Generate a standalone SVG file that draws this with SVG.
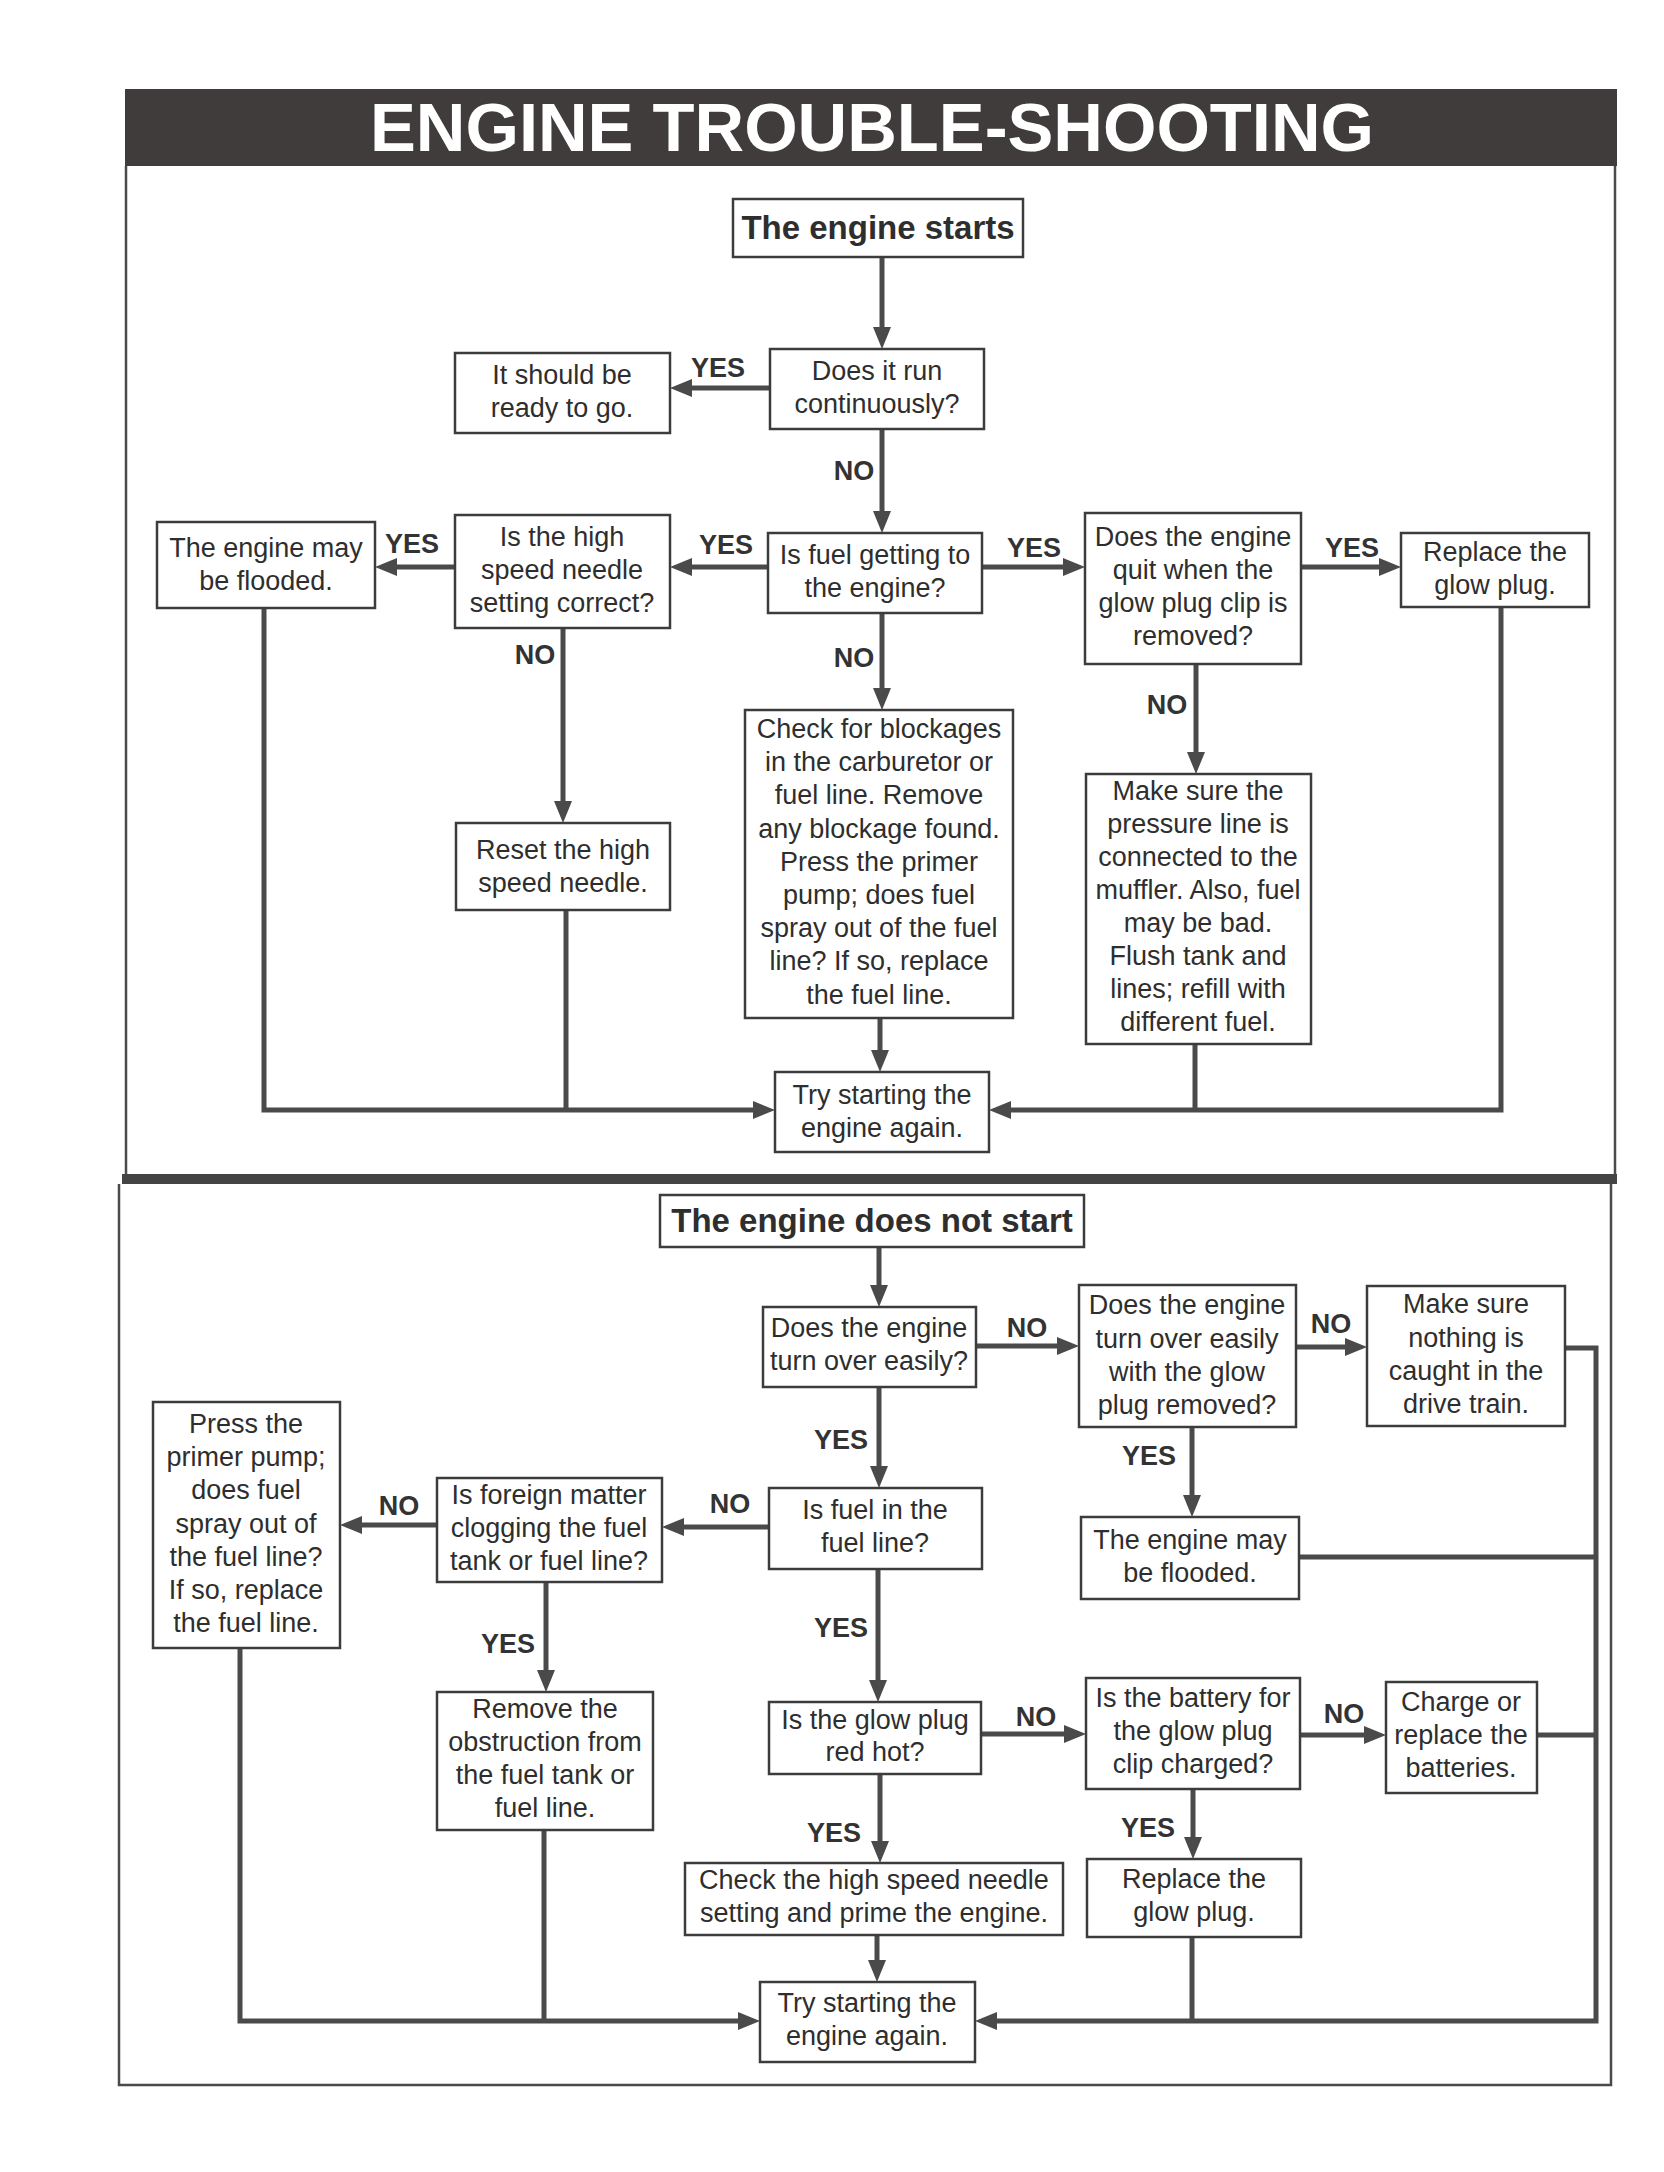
<svg xmlns="http://www.w3.org/2000/svg" width="1664" height="2172" viewBox="0 0 1664 2172">
<defs>
<style>
.bx{fill:#fff;stroke:#3c3c3c;stroke-width:2.5}
.t{font-family:"Liberation Sans",Arial,sans-serif;font-size:27px;fill:#2e2e2e;text-anchor:middle}
.hb{font-family:"Liberation Sans",Arial,sans-serif;font-size:33px;font-weight:bold;fill:#2e2e2e;text-anchor:middle}
.lb{font-family:"Liberation Sans",Arial,sans-serif;font-size:27px;font-weight:bold;fill:#333;text-anchor:middle}
.c{fill:none;stroke:#4a4a4a;stroke-width:5}
.a{marker-end:url(#ah)}
.fr{fill:none;stroke:#4a4a4a;stroke-width:2.5}
</style>
<marker id="ah" markerUnits="userSpaceOnUse" markerWidth="24" markerHeight="20" refX="1" refY="9" orient="auto">
<path d="M0,0 L22,9 L0,18 Z" fill="#4a4a4a"/>
</marker>
</defs>
<rect width="1664" height="2172" fill="#fff"/>

<g id="frame">
<rect x="125" y="89" width="1492" height="77" fill="#403c3b"/>
<text x="872" y="151" font-family="Liberation Sans,Arial,sans-serif" font-size="69" font-weight="bold" fill="#fff" text-anchor="middle" textLength="1004" lengthAdjust="spacingAndGlyphs">ENGINE TROUBLE-SHOOTING</text>
<path class="fr" d="M126,166 V1174 M1615,166 V1174"/>
<path d="M122,1179 H1617" stroke="#444" stroke-width="10"/>
<path class="fr" d="M119,1184 V2085 H1611 V1184"/>
</g>

<g id="connectors">
<path class="c a" d="M882,257 V328"/>
<path class="c a" d="M770,388 H691"/>
<path class="c a" d="M882,429 V512"/>
<path class="c a" d="M768,567 H691"/>
<path class="c a" d="M455,567 H396"/>
<path class="c a" d="M982,567 H1064"/>
<path class="c a" d="M1301,567 H1380"/>
<path class="c a" d="M882,613 V689"/>
<path class="c a" d="M1196,664 V753"/>
<path class="c a" d="M563,628 V802"/>
<path class="c a" d="M880,1018 V1051"/>
<path class="c a" d="M264,608 V1110 H754"/>
<path class="c" d="M566,910 V1110"/>
<path class="c a" d="M1501,607 V1110 H1010"/>
<path class="c" d="M1195,1044 V1110"/>

<path class="c a" d="M879,1247 V1286"/>
<path class="c a" d="M976,1346 H1058"/>
<path class="c a" d="M1296,1347 H1346"/>
<path class="c a" d="M1192,1427 V1496"/>
<path class="c a" d="M879,1387 V1467"/>
<path class="c a" d="M769,1527 H683"/>
<path class="c a" d="M437,1525 H361"/>
<path class="c a" d="M546,1582 V1671"/>
<path class="c a" d="M878,1569 V1681"/>
<path class="c a" d="M981,1734 H1065"/>
<path class="c a" d="M1300,1735 H1365"/>
<path class="c a" d="M880,1774 V1842"/>
<path class="c a" d="M1193,1789 V1838"/>
<path class="c a" d="M877,1935 V1961"/>
<path class="c a" d="M240,1648 V2021 H739"/>
<path class="c" d="M544,1830 V2021"/>
<path class="c a" d="M1565,1348 H1596 V2021 H996"/>
<path class="c" d="M1299,1557 H1596"/>
<path class="c" d="M1537,1735 H1596"/>
<path class="c" d="M1192,1937 V2021"/>
</g>

<g id="labels">
<text class="lb" x="718" y="377">YES</text>
<text class="lb" x="854" y="480">NO</text>
<text class="lb" x="726" y="554">YES</text>
<text class="lb" x="412" y="553">YES</text>
<text class="lb" x="1034" y="557">YES</text>
<text class="lb" x="1352" y="557">YES</text>
<text class="lb" x="854" y="667">NO</text>
<text class="lb" x="1167" y="714">NO</text>
<text class="lb" x="535" y="664">NO</text>

<text class="lb" x="1027" y="1337">NO</text>
<text class="lb" x="1331" y="1333">NO</text>
<text class="lb" x="1149" y="1465">YES</text>
<text class="lb" x="841" y="1449">YES</text>
<text class="lb" x="730" y="1513">NO</text>
<text class="lb" x="399" y="1515">NO</text>
<text class="lb" x="508" y="1653">YES</text>
<text class="lb" x="841" y="1637">YES</text>
<text class="lb" x="1036" y="1726">NO</text>
<text class="lb" x="1344" y="1723">NO</text>
<text class="lb" x="834" y="1842">YES</text>
<text class="lb" x="1148" y="1837">YES</text>
</g>

<g id="n-starts"><rect class="bx" x="733" y="199" width="290" height="58"/><text class="hb" x="878" y="239">The engine starts</text></g>
<g id="n-run"><rect class="bx" x="770" y="349" width="214" height="80"/><text class="t" x="877" y="380">Does it run</text><text class="t" x="877" y="413">continuously?</text></g>
<g id="n-ready"><rect class="bx" x="455" y="353" width="215" height="80"/><text class="t" x="562" y="384">It should be</text><text class="t" x="562" y="417">ready to go.</text></g>
<g id="n-fuel"><rect class="bx" x="768" y="533" width="214" height="80"/><text class="t" x="875" y="564">Is fuel getting to</text><text class="t" x="875" y="597">the engine?</text></g>
<g id="n-high"><rect class="bx" x="455" y="515" width="215" height="113"/><text class="t" x="562" y="546">Is the high</text><text class="t" x="562" y="579">speed needle</text><text class="t" x="562" y="612">setting correct?</text></g>
<g id="n-flooded1"><rect class="bx" x="157" y="522" width="218" height="86"/><text class="t" x="266" y="557">The engine may</text><text class="t" x="266" y="590">be flooded.</text></g>
<g id="n-quit"><rect class="bx" x="1085" y="513" width="216" height="151"/><text class="t" x="1193" y="546">Does the engine</text><text class="t" x="1193" y="579">quit when the</text><text class="t" x="1193" y="612">glow plug clip is</text><text class="t" x="1193" y="645">removed?</text></g>
<g id="n-replace1"><rect class="bx" x="1401" y="533" width="188" height="74"/><text class="t" x="1495" y="561">Replace the</text><text class="t" x="1495" y="594">glow plug.</text></g>
<g id="n-check"><rect class="bx" x="745" y="710" width="268" height="308"/>
<text class="t" x="879" y="738">Check for blockages</text>
<text class="t" x="879" y="771">in the carburetor or</text>
<text class="t" x="879" y="804">fuel line. Remove</text>
<text class="t" x="879" y="838">any blockage found.</text>
<text class="t" x="879" y="871">Press the primer</text>
<text class="t" x="879" y="904">pump; does fuel</text>
<text class="t" x="879" y="937">spray out of the fuel</text>
<text class="t" x="879" y="970">line? If so, replace</text>
<text class="t" x="879" y="1004">the fuel line.</text></g>
<g id="n-pressure"><rect class="bx" x="1086" y="774" width="225" height="270"/>
<text class="t" x="1198" y="800">Make sure the</text>
<text class="t" x="1198" y="833">pressure line is</text>
<text class="t" x="1198" y="866">connected to the</text>
<text class="t" x="1198" y="899">muffler. Also, fuel</text>
<text class="t" x="1198" y="932">may be bad.</text>
<text class="t" x="1198" y="965">Flush tank and</text>
<text class="t" x="1198" y="998">lines; refill with</text>
<text class="t" x="1198" y="1031">different fuel.</text></g>
<g id="n-reset"><rect class="bx" x="456" y="823" width="214" height="87"/><text class="t" x="563" y="859">Reset the high</text><text class="t" x="563" y="892">speed needle.</text></g>
<g id="n-try1"><rect class="bx" x="775" y="1072" width="214" height="80"/><text class="t" x="882" y="1104">Try starting the</text><text class="t" x="882" y="1137">engine again.</text></g>

<g id="n-notstart"><rect class="bx" x="660" y="1195" width="424" height="52"/><text class="hb" x="872" y="1232">The engine does not start</text></g>
<g id="n-turn"><rect class="bx" x="763" y="1307" width="213" height="80"/><text class="t" x="869" y="1337">Does the engine</text><text class="t" x="869" y="1370">turn over easily?</text></g>
<g id="n-glowrem"><rect class="bx" x="1079" y="1285" width="217" height="142"/><text class="t" x="1187" y="1314">Does the engine</text><text class="t" x="1187" y="1348">turn over easily</text><text class="t" x="1187" y="1381">with the glow</text><text class="t" x="1187" y="1414">plug removed?</text></g>
<g id="n-drivetrain"><rect class="bx" x="1367" y="1286" width="198" height="140"/><text class="t" x="1466" y="1313">Make sure</text><text class="t" x="1466" y="1347">nothing is</text><text class="t" x="1466" y="1380">caught in the</text><text class="t" x="1466" y="1413">drive train.</text></g>
<g id="n-flooded2"><rect class="bx" x="1081" y="1517" width="218" height="82"/><text class="t" x="1190" y="1549">The engine may</text><text class="t" x="1190" y="1582">be flooded.</text></g>
<g id="n-fuelline"><rect class="bx" x="769" y="1488" width="213" height="81"/><text class="t" x="875" y="1519">Is fuel in the</text><text class="t" x="875" y="1552">fuel line?</text></g>
<g id="n-foreign"><rect class="bx" x="437" y="1478" width="225" height="104"/><text class="t" x="549" y="1504">Is foreign matter</text><text class="t" x="549" y="1537">clogging the fuel</text><text class="t" x="549" y="1570">tank or fuel line?</text></g>
<g id="n-press"><rect class="bx" x="153" y="1402" width="187" height="246"/>
<text class="t" x="246" y="1433">Press the</text>
<text class="t" x="246" y="1466">primer pump;</text>
<text class="t" x="246" y="1499">does fuel</text>
<text class="t" x="246" y="1533">spray out of</text>
<text class="t" x="246" y="1566">the fuel line?</text>
<text class="t" x="246" y="1599">If so, replace</text>
<text class="t" x="246" y="1632">the fuel line.</text></g>
<g id="n-remove"><rect class="bx" x="437" y="1692" width="216" height="138"/><text class="t" x="545" y="1718">Remove the</text><text class="t" x="545" y="1751">obstruction from</text><text class="t" x="545" y="1784">the fuel tank or</text><text class="t" x="545" y="1817">fuel line.</text></g>
<g id="n-redhot"><rect class="bx" x="769" y="1702" width="212" height="72"/><text class="t" x="875" y="1729">Is the glow plug</text><text class="t" x="875" y="1761">red hot?</text></g>
<g id="n-battery"><rect class="bx" x="1086" y="1678" width="214" height="111"/><text class="t" x="1193" y="1707">Is the battery for</text><text class="t" x="1193" y="1740">the glow plug</text><text class="t" x="1193" y="1773">clip charged?</text></g>
<g id="n-charge"><rect class="bx" x="1386" y="1682" width="151" height="111"/><text class="t" x="1461" y="1711">Charge or</text><text class="t" x="1461" y="1744">replace the</text><text class="t" x="1461" y="1777">batteries.</text></g>
<g id="n-checkhs"><rect class="bx" x="685" y="1863" width="378" height="72"/><text class="t" x="874" y="1889">Check the high speed needle</text><text class="t" x="874" y="1922">setting and prime the engine.</text></g>
<g id="n-replace2"><rect class="bx" x="1087" y="1859" width="214" height="78"/><text class="t" x="1194" y="1888">Replace the</text><text class="t" x="1194" y="1921">glow plug.</text></g>
<g id="n-try2"><rect class="bx" x="760" y="1982" width="215" height="80"/><text class="t" x="867" y="2012">Try starting the</text><text class="t" x="867" y="2045">engine again.</text></g>
</svg>
